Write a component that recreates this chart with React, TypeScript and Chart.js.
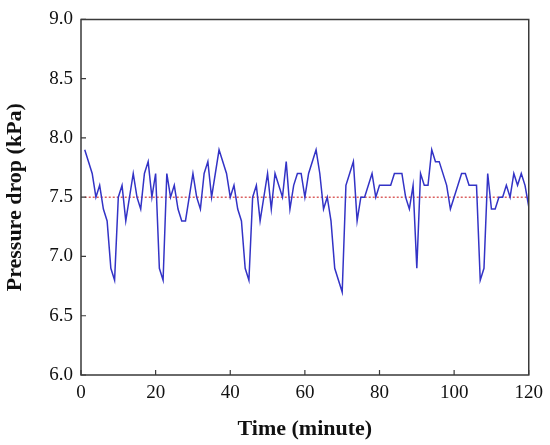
import React, { useEffect, useRef } from "react";
import { Chart, registerables } from "chart.js";

Chart.register(...registerables);

const minutes = [1, 3, 4, 5, 6, 7, 8, 9, 10, 11, 12, 14, 15, 16, 17, 18, 19, 20, 21, 22, 23, 24, 25, 26, 27, 28, 30, 31, 32, 33, 34, 35, 37, 39, 40, 41, 42, 43, 44, 45, 46, 47, 48, 50, 51, 52, 54, 55, 56, 57, 58, 59, 60, 61, 63, 64, 65, 66, 67, 68, 70, 71, 72, 73, 74, 75, 76, 78, 79, 80, 83, 84, 86, 87, 88, 89, 90, 91, 92, 93, 94, 95, 96, 98, 99, 102, 103, 104, 106, 107, 108, 109, 110, 111, 112, 113, 114, 115, 116, 117, 118, 119, 120];
const pressure = [7.9, 7.7, 7.5, 7.6, 7.4, 7.3, 6.9, 6.8, 7.5, 7.6, 7.3, 7.7, 7.5, 7.4, 7.7, 7.8, 7.5, 7.7, 6.9, 6.8, 7.7, 7.5, 7.6, 7.4, 7.3, 7.3, 7.7, 7.5, 7.4, 7.7, 7.8, 7.5, 7.9, 7.7, 7.5, 7.6, 7.4, 7.3, 6.9, 6.8, 7.5, 7.6, 7.3, 7.7, 7.4, 7.7, 7.5, 7.8, 7.4, 7.6, 7.7, 7.7, 7.5, 7.7, 7.9, 7.7, 7.4, 7.5, 7.3, 6.9, 6.7, 7.6, 7.7, 7.8, 7.3, 7.5, 7.5, 7.7, 7.5, 7.6, 7.6, 7.7, 7.7, 7.5, 7.4, 7.6, 6.9, 7.7, 7.6, 7.6, 7.9, 7.8, 7.8, 7.6, 7.4, 7.7, 7.7, 7.6, 7.6, 6.8, 6.9, 7.7, 7.4, 7.4, 7.5, 7.5, 7.6, 7.5, 7.7, 7.6, 7.7, 7.6, 7.42];
const refStart = 1;
const refEnd = 120;
const refValue = 7.5;
const xTicks = [0, 20, 40, 60, 80, 100, 120];
const yTicks = [6.0, 6.5, 7.0, 7.5, 8.0, 8.5, 9.0];

const FONT = "'Liberation Serif', 'Times New Roman', serif";

const framePlugin = {
  id: "frameTicks",
  afterDatasetsDraw(chart: any) {
    const { ctx, chartArea, scales } = chart;
    const { left, right, top, bottom } = chartArea;
    ctx.save();
    ctx.strokeStyle = "#3a3a3a";
    ctx.lineWidth = 1.5;
    ctx.beginPath();
    ctx.rect(left, top, right - left, bottom - top);
    ctx.stroke();
    ctx.lineWidth = 1.2;
    ctx.beginPath();
    xTicks.forEach((v) => {
      const px = scales.x.getPixelForValue(v);
      ctx.moveTo(px, bottom);
      ctx.lineTo(px, bottom - 5);
    });
    yTicks.forEach((v) => {
      const py = scales.y.getPixelForValue(v);
      ctx.moveTo(left, py);
      ctx.lineTo(left + 5, py);
    });
    ctx.stroke();
    ctx.restore();
  },
};

export default function App() {
  const ref = useRef<HTMLCanvasElement>(null);
  useEffect(() => {
    if (!ref.current) return;
    const chart = new Chart(ref.current, {
      type: "line",
      data: {
        datasets: [
          {
            data: minutes.map((m, i) => ({ x: m, y: pressure[i] })),
            borderColor: "#3333c6",
            borderWidth: 1.5,
            pointRadius: 0,
            tension: 0,
            fill: false,
          },
          {
            data: [
              { x: refStart, y: refValue },
              { x: refEnd, y: refValue },
            ],
            borderColor: "#d23a3a",
            borderWidth: 1.2,
            borderDash: [2, 2],
            pointRadius: 0,
            fill: false,
          },
        ],
      },
      plugins: [framePlugin],
      options: {
        animation: false,
        responsive: true,
        maintainAspectRatio: false,
        layout: { padding: { top: 15, right: 21, left: 0, bottom: 0 } },
        plugins: { legend: { display: false }, tooltip: { enabled: false } },
        scales: {
          x: {
            type: "linear",
            min: 0,
            max: 120,
            afterFit: (s: any) => {
              s.height = 70;
            },
            afterBuildTicks: (s: any) => {
              s.ticks = xTicks.map((v) => ({ value: v }));
            },
            grid: { display: false, drawTicks: false },
            border: { display: false },
            ticks: {
              color: "#111",
              padding: 7,
              maxRotation: 0,
              font: { family: FONT, size: 19 },
            },
            title: {
              display: true,
              text: "Time (minute)",
              color: "#111",
              font: { family: FONT, size: 22, weight: "bold" },
              padding: { top: 0, bottom: 2 },
            },
          },
          y: {
            type: "linear",
            min: 6,
            max: 9,
            afterFit: (s: any) => {
              s.width = 81;
            },
            afterBuildTicks: (s: any) => {
              s.ticks = yTicks.map((v) => ({ value: v }));
            },
            grid: { display: false, drawTicks: false },
            border: { display: false },
            ticks: {
              color: "#111",
              padding: 8,
              font: { family: FONT, size: 19 },
              callback: (v: any) => Number(v).toFixed(1),
            },
            title: {
              display: true,
              text: "Pressure drop (kPa)",
              color: "#111",
              font: { family: FONT, size: 22, weight: "bold" },
              padding: { top: 2, bottom: 0 },
            },
          },
        },
      },
    });
    return () => chart.destroy();
  }, []);
  return (
    <div style={{ position: "fixed", left: 0, top: 0, width: 550, height: 445, background: "#fff" }}>
      <canvas ref={ref} />
    </div>
  );
}
